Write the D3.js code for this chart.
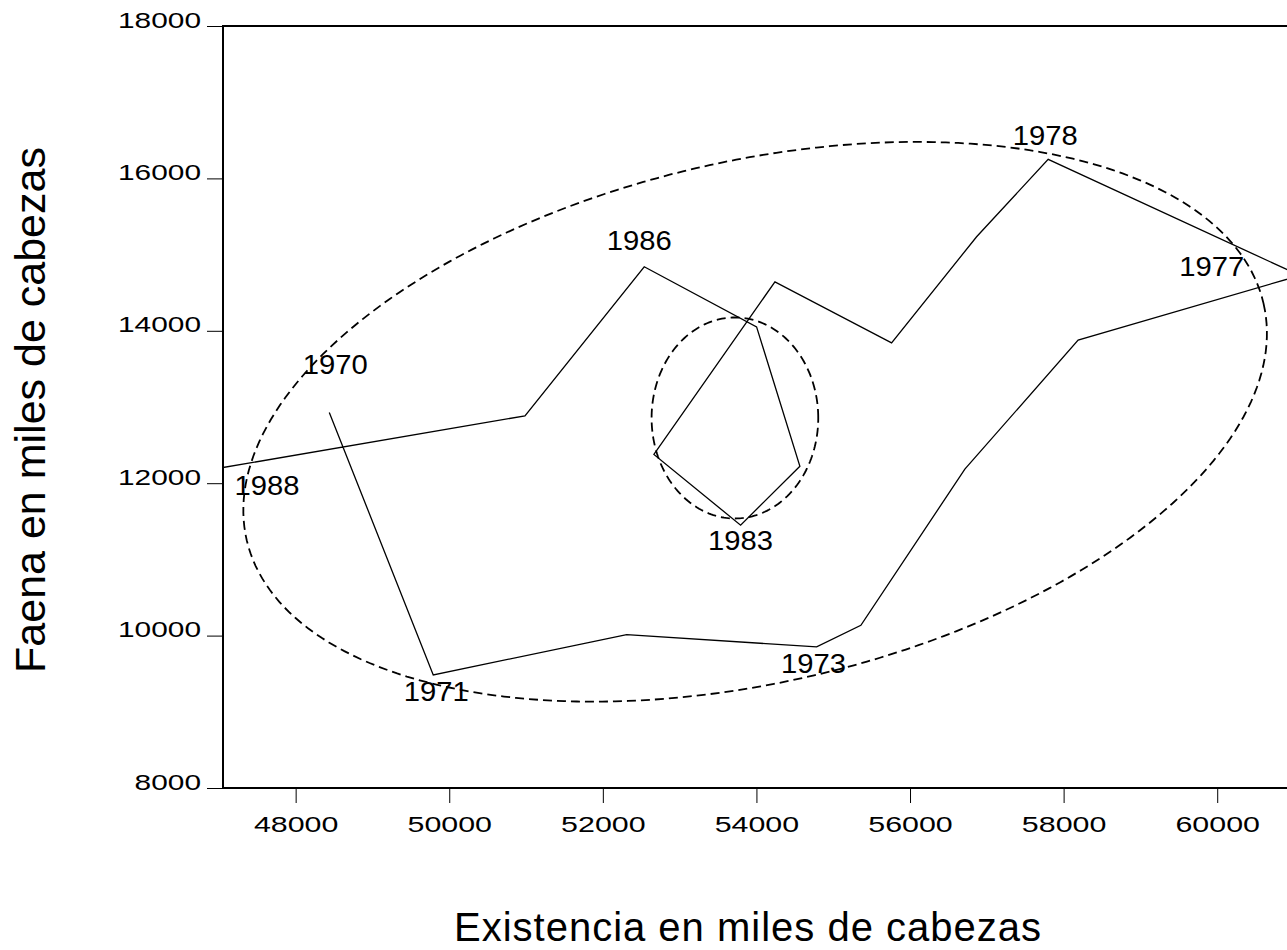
<!DOCTYPE html>
<html>
<head>
<meta charset="utf-8">
<script src="https://cdn.jsdelivr.net/npm/d3@7"></script>
<style>
    body { margin: 0; background: #fff; }
    svg { display: block; font-family: "Liberation Sans", Arial, sans-serif; }
</style>
</head>
<body>
<svg id="chart" width="1287" height="950"></svg>
<script>
// Data: stock (x) vs slaughter (y), thousands of head
const years = [1970, 1971, 1972, 1973, 1974, 1975, 1976, 1977, 1978, 1979,
               1980, 1981, 1982, 1983, 1984, 1985, 1986, 1987, 1988];
const existencia = [48438, 49792, 52310, 54784, 55360, 56714, 58189, 61076, 57799, 56867,
                    55760, 54241, 52665, 53794, 54566, 54002, 52539, 50986, 46911];
const faena = [12928, 9484, 10014, 9851, 10136, 12184, 13878, 14726, 16250, 15234,
               13842, 14643, 12377, 11449, 12223, 14052, 14840, 12884, 12181];

const xTicks = [48000, 50000, 52000, 54000, 56000, 58000, 60000];
const yTicks = [8000, 10000, 12000, 14000, 16000, 18000];
const labelledYears = [1970, 1971, 1973, 1977, 1978, 1983, 1986, 1988];

// dashed ellipses: centre and two conjugate semi-axes, in data units
const outerCentre = [53983, 12806];
const outerAxisU = [6620, 1554];
const outerAxisV = [768, -3328];
const innerCentre = [53720, 12856];
const innerAxisU = [1085, 0];
const innerAxisV = [0, 1319];

const xTitle = "Existencia en miles de cabezas";
const yTitle = "Faena en miles de cabezas";

// layout
const plotLeft = 223, plotTop = 26, plotBottom = 788;
const svg = d3.select('#chart');

const x = d3.scaleLinear().domain([47054, 61000]).range([plotLeft, 1294]);
const y = d3.scaleLinear().domain([8000, 18000]).range([plotBottom, plotTop]);

// clip so the path stops at the left axis like the original
svg.append('defs').append('clipPath').attr('id', 'plotClip')
    .append('rect')
    .attr('x', plotLeft).attr('y', plotTop)
    .attr('width', 1400).attr('height', plotBottom - plotTop);

// axes
const yAxis = d3.axisLeft(y).tickValues(yTicks).tickSize(16).tickPadding(6).tickFormat(d3.format('d'));
const yg = svg.append('g').attr('transform', `translate(${plotLeft},0)`).call(yAxis);
yg.select('.domain').remove();
yg.selectAll('.tick line').attr('stroke', '#000').attr('stroke-width', 1);
yg.selectAll('.tick text')
    .attr('dy', '0.05em')
    .attr('fill', '#000')
    .style('font-size', '22px')
    .attr('textLength', d => String(d).length * 16.6)
    .attr('lengthAdjust', 'spacingAndGlyphs');

const xAxis = d3.axisBottom(x).tickValues(xTicks).tickSize(15).tickPadding(13).tickFormat(d3.format('d'));
const xg = svg.append('g').attr('transform', `translate(0,${plotBottom})`).call(xAxis);
xg.select('.domain').remove();
xg.selectAll('.tick line').attr('stroke', '#000').attr('stroke-width', 1);
xg.selectAll('.tick text')
    .attr('fill', '#000')
    .style('font-size', '22px')
    .attr('textLength', d => String(d).length * 16.9)
    .attr('lengthAdjust', 'spacingAndGlyphs');

// frame
svg.append('rect')
    .attr('x', x.range()[0]).attr('y', y.range()[1])
    .attr('width', x.range()[1] - x.range()[0])
    .attr('height', y.range()[0] - y.range()[1])
    .attr('fill', 'none')
    .attr('stroke', '#000')
    .attr('stroke-width', 2);

const plot = svg.append('g').attr('clip-path', 'url(#plotClip)');

// ellipse outline from centre + conjugate axes
function ellipsePoints(c, u, v) {
    return d3.range(0, 240).map(i => {
        const t = (i / 240) * 2 * Math.PI;
        return [c[0] + u[0] * Math.cos(t) + v[0] * Math.sin(t),
                c[1] + u[1] * Math.cos(t) + v[1] * Math.sin(t)];
    });
}

const ellipseLine = d3.line()
    .x(d => x(d[0]))
    .y(d => y(d[1]))
    .curve(d3.curveLinearClosed);

[[outerCentre, outerAxisU, outerAxisV], [innerCentre, innerAxisU, innerAxisV]].forEach(([c, u, v]) => {
    plot.append('path')
        .attr('d', ellipseLine(ellipsePoints(c, u, v)))
        .attr('fill', 'none')
        .attr('stroke', '#000')
        .attr('stroke-width', 1.8)
        .attr('stroke-dasharray', '9,5');
});

// the yearly path
const points = years.map((yr, i) => ({ year: yr, x: existencia[i], y: faena[i] }));

plot.append('path')
    .datum(points)
    .attr('d', d3.line().x(d => x(d.x)).y(d => y(d.y)))
    .attr('fill', 'none')
    .attr('stroke', '#000')
    .attr('stroke-width', 1.3);

// year labels, nudged off their points (pixels)
const labelNudge = {
    1970: [6, -38], 1971: [3, 26], 1973: [-3, 26], 1977: [-88, 1],
    1978: [-3, -14], 1983: [0, 25], 1986: [-5, -17], 1988: [55, 26]
};

svg.append('g').selectAll('text')
    .data(points.filter(d => labelledYears.includes(d.year)))
    .enter()
    .append('text')
    .attr('x', d => x(d.x) + labelNudge[d.year][0])
    .attr('y', d => y(d.y) + labelNudge[d.year][1])
    .attr('text-anchor', 'middle')
    .style('font-size', '27px')
    .attr('textLength', 65)
    .attr('lengthAdjust', 'spacingAndGlyphs')
    .text(d => d.year);

// axis titles
svg.append('text')
    .attr('x', 748).attr('y', 941)
    .attr('text-anchor', 'middle')
    .style('font-size', '40px')
    .style('letter-spacing', '1px')
    .text(xTitle);

svg.append('text')
    .attr('transform', 'translate(45,410) rotate(-90)')
    .attr('text-anchor', 'middle')
    .style('font-size', '43px')
    .text(yTitle);
</script>
</body>
</html>
